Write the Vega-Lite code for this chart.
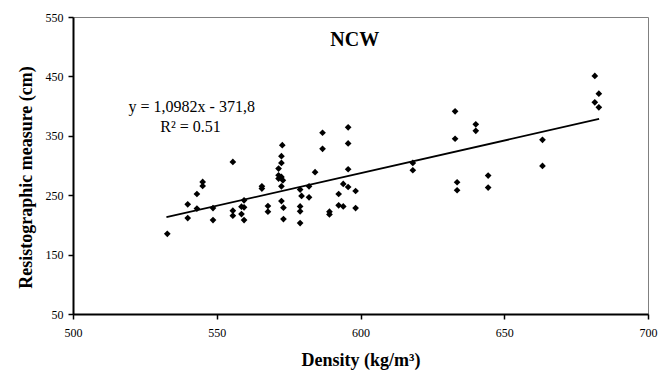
{
  "$schema": "https://vega.github.io/schema/vega-lite/v6.json",
  "width": 575,
  "height": 297,
  "autosize": {"type": "none"},
  "padding": {"left": 73, "top": 17, "right": 17, "bottom": 56},
  "background": "white",
  "config": {
    "view": {"stroke": "#808080", "strokeWidth": 1},
    "font": "Liberation Serif"
  },
  "datasets": {
    "pts": [
      {"d": 532.8, "r": 185}, {"d": 539.9, "r": 234.6}, {"d": 539.9, "r": 211.5}, {"d": 543.1, "r": 252},
      {"d": 543.1, "r": 227.4}, {"d": 545.1, "r": 272.3}, {"d": 545.1, "r": 265.5}, {"d": 548.7, "r": 228.4},
      {"d": 548.7, "r": 208.1}, {"d": 555.6, "r": 306.1}, {"d": 555.6, "r": 224}, {"d": 555.6, "r": 215.5},
      {"d": 558.6, "r": 230.7}, {"d": 558.6, "r": 218.2}, {"d": 559.5, "r": 241.4}, {"d": 559.5, "r": 229.6},
      {"d": 559.5, "r": 208.1}, {"d": 565.7, "r": 265}, {"d": 565.7, "r": 261.1}, {"d": 567.8, "r": 231.8},
      {"d": 567.8, "r": 222.3}, {"d": 572.8, "r": 334.3}, {"d": 572.5, "r": 315.7}, {"d": 572.5, "r": 304.4},
      {"d": 571.5, "r": 294.9}, {"d": 571.5, "r": 283.6}, {"d": 571.5, "r": 278}, {"d": 572.5, "r": 280.7},
      {"d": 573, "r": 275}, {"d": 572.5, "r": 265}, {"d": 572.5, "r": 240.2}, {"d": 573.2, "r": 229},
      {"d": 573.2, "r": 209.8}, {"d": 579, "r": 259.5}, {"d": 579, "r": 231.1}, {"d": 579, "r": 222.8},
      {"d": 579, "r": 203.1}, {"d": 579.5, "r": 248.7}, {"d": 582.1, "r": 265}, {"d": 582.1, "r": 246.5},
      {"d": 584.2, "r": 288.7}, {"d": 586.8, "r": 355.1}, {"d": 586.8, "r": 328}, {"d": 589.2, "r": 222.3},
      {"d": 589.2, "r": 217.7}, {"d": 592.4, "r": 252}, {"d": 592.4, "r": 232.9}, {"d": 594, "r": 268.9},
      {"d": 594, "r": 231.1}, {"d": 595.7, "r": 364.2}, {"d": 595.7, "r": 337.2}, {"d": 595.7, "r": 293.7},
      {"d": 595.7, "r": 263.8}, {"d": 598.3, "r": 257.1}, {"d": 598.3, "r": 228.4}, {"d": 618.2, "r": 304.4},
      {"d": 618.2, "r": 292}, {"d": 632.9, "r": 391.2}, {"d": 632.9, "r": 345}, {"d": 633.6, "r": 271.8},
      {"d": 633.6, "r": 258.3}, {"d": 640.1, "r": 369.3}, {"d": 640.1, "r": 358.4}, {"d": 644.4, "r": 283.1},
      {"d": 644.4, "r": 262.8}, {"d": 663.3, "r": 343.2}, {"d": 663.3, "r": 299.3}, {"d": 681.5, "r": 450.8},
      {"d": 682.9, "r": 421}, {"d": 681.5, "r": 406.4}, {"d": 682.9, "r": 398}
    ],
    "fit": [{"d": 532.5, "r": 213}, {"d": 683, "r": 378.3}],
    "eq": [
      {"d": 541.3, "r": 399, "t": "y = 1,0982x - 371,8"},
      {"d": 540.9, "r": 364, "t": "R² = 0.51"}
    ],
    "ttl": [{"d": 598, "r": 511, "t": "NCW"}]
  },
  "encoding": {
    "x": {
      "field": "d", "type": "quantitative",
      "scale": {"domain": [500, 700], "nice": false, "zero": false},
      "axis": {
        "title": "Density (kg/m³)", "values": [500, 550, 600, 650, 700],
        "grid": false, "domainColor": "black", "domainWidth": 2,
        "tickColor": "black", "tickSize": 5, "tickWidth": 1.5,
        "labelFont": "Liberation Serif", "labelFontSize": 12, "labelColor": "black",
        "labelPadding": 8, "labelFlush": false,
        "titleFont": "Liberation Serif", "titleFontSize": 18, "titleFontWeight": "bold",
        "titleColor": "black", "titlePadding": 13
      }
    },
    "y": {
      "field": "r", "type": "quantitative",
      "scale": {"domain": [50, 550], "nice": false, "zero": false},
      "axis": {
        "title": "Resistographic measure (cm)", "values": [50, 150, 250, 350, 450, 550],
        "grid": false, "domainColor": "black", "domainWidth": 2,
        "tickColor": "black", "tickSize": 5, "tickWidth": 1.5,
        "labelFont": "Liberation Serif", "labelFontSize": 12, "labelColor": "black",
        "labelPadding": 5, "labelFlush": false,
        "titleFont": "Liberation Serif", "titleFontSize": 18, "titleFontWeight": "bold",
        "titleColor": "black", "titlePadding": 10, "titleY": 160
      }
    }
  },
  "layer": [
    {
      "data": {"name": "pts"},
      "mark": {"type": "point", "shape": "diamond", "filled": true, "color": "black", "size": 45, "opacity": 1}
    },
    {
      "data": {"name": "fit"},
      "mark": {"type": "line", "color": "black", "strokeWidth": 1.8}
    },
    {
      "data": {"name": "eq"},
      "mark": {"type": "text", "color": "black", "font": "Liberation Serif", "fontSize": 16, "align": "center", "baseline": "middle"},
      "encoding": {"text": {"field": "t"}}
    },
    {
      "data": {"name": "ttl"},
      "mark": {"type": "text", "color": "black", "font": "Liberation Serif", "fontSize": 20, "fontWeight": "bold", "align": "center", "baseline": "middle"},
      "encoding": {"text": {"field": "t"}}
    }
  ]
}
